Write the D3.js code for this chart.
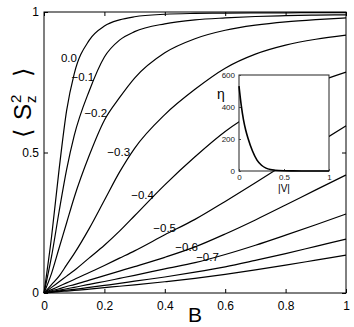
<!DOCTYPE html>
<html>
<head>
<meta charset="utf-8">
<script src="https://cdn.jsdelivr.net/npm/d3@7"></script>
<style>
  body { margin: 0; background: #fff; }
  text { font-family: "Liberation Sans", Arial, Helvetica, sans-serif; }
</style>
</head>
<body>
<div id="chart"></div>
<script>
const bValues = [0, 0.025, 0.05, 0.075, 0.1, 0.15, 0.2, 0.25, 0.3, 0.4, 0.5, 0.6, 0.7, 0.8, 0.9, 1.0];

// <Sz^2> for each curve (V = 0.0 ... -0.9)
const curveV00 = [0, 0.20, 0.44, 0.65, 0.78, 0.90, 0.95, 0.972, 0.983, 0.992, 0.995, 0.996, 0.997, 0.997, 0.998, 0.998];
const curveV01 = [0, 0.13, 0.29, 0.44, 0.56, 0.72, 0.84, 0.90, 0.93, 0.958, 0.972, 0.979, 0.984, 0.987, 0.989, 0.99];
const curveV02 = [0, 0.07, 0.16, 0.25, 0.34, 0.49, 0.615, 0.695, 0.765, 0.855, 0.905, 0.935, 0.953, 0.965, 0.973, 0.979];
const curveV03 = [0, 0.03, 0.06, 0.10, 0.14, 0.23, 0.33, 0.43, 0.515, 0.635, 0.725, 0.80, 0.85, 0.882, 0.903, 0.918];
const curveV04 = [0, 0.02, 0.04, 0.06, 0.08, 0.125, 0.17, 0.22, 0.275, 0.385, 0.485, 0.575, 0.645, 0.70, 0.748, 0.786];
const curveV05 = [0, 0.012, 0.024, 0.036, 0.048, 0.073, 0.098, 0.124, 0.15, 0.207, 0.262, 0.326, 0.392, 0.46, 0.528, 0.595];
const curveV06 = [0, 0.008, 0.015, 0.023, 0.03, 0.046, 0.062, 0.078, 0.094, 0.127, 0.164, 0.21, 0.26, 0.313, 0.367, 0.42];
const curveV07 = [0, 0.005, 0.01, 0.015, 0.02, 0.031, 0.041, 0.052, 0.063, 0.086, 0.108, 0.137, 0.17, 0.206, 0.243, 0.281];
const curveV08 = [0, 0.003, 0.007, 0.01, 0.013, 0.02, 0.027, 0.034, 0.042, 0.057, 0.074, 0.093, 0.116, 0.14, 0.166, 0.192];
const curveV09 = [0, 0.002, 0.005, 0.007, 0.009, 0.014, 0.019, 0.024, 0.029, 0.04, 0.052, 0.066, 0.082, 0.099, 0.117, 0.135];
const allCurves = [curveV00, curveV01, curveV02, curveV03, curveV04, curveV05, curveV06, curveV07, curveV08, curveV09];

// curve labels and where their right end sits (B, <Sz^2>)
const curveLabels = ["0.0", "\u22120.1", "\u22120.2", "\u22120.3", "\u22120.4", "\u22120.5", "\u22120.6", "\u22120.7"];
const labelB = [0.109, 0.166, 0.209, 0.285, 0.364, 0.437, 0.510, 0.579];
const labelS = [0.822, 0.755, 0.626, 0.488, 0.335, 0.217, 0.149, 0.114];

// inset: eta against |V|
const insetV = [0, 0.025, 0.05, 0.075, 0.1, 0.15, 0.2, 0.25, 0.3, 0.35, 0.4, 0.5, 0.6, 0.7, 0.8, 0.9, 1.0];
const insetEta = [530, 410, 320, 255, 205, 125, 68, 36, 18, 9, 5, 1.5, 0.5, 0, 0, 0, 0];

const xTicks = [0, 0.2, 0.4, 0.6, 0.8, 1];
const xTickLabels = ["0", "0.2", "0.4", "0.6", "0.8", "1"];
const yTicks = [0, 0.5, 1];
const yTickLabels = ["0", "0.5", "1"];
const insetXTicks = [0, 0.5, 1];
const insetXTickLabels = ["0", "0.5", "1"];
const insetYTicks = [0, 200, 400, 600];

const width = 354, height = 327;
const margin = { top: 12, right: 8, bottom: 34, left: 44 };

const svg = d3.select("#chart").append("svg")
    .attr("width", width)
    .attr("height", height);

const x = d3.scaleLinear().domain([0, 1]).range([margin.left, width - margin.right]);
const y = d3.scaleLinear().domain([0, 1]).range([height - margin.bottom, margin.top]);

// curves
const line = d3.line()
    .x(function (d, i) { return x(bValues[i]); })
    .y(function (d) { return y(d); })
    .curve(d3.curveMonotoneX);

svg.append("g").selectAll("path")
    .data(allCurves)
    .enter()
    .append("path")
    .attr("d", line)
    .attr("fill", "none")
    .attr("stroke", "#000")
    .attr("stroke-width", 1.2);

// axes, ticks pointing inwards on all four sides
function styleAxis(g) {
    g.select(".domain").remove();
    g.selectAll("line").attr("stroke", "#000");
    g.selectAll("text").attr("fill", "#000").style("font-size", "12px");
}

svg.append("g")
    .attr("transform", "translate(0," + y(0) + ")")
    .call(d3.axisBottom(x).tickValues(xTicks).tickFormat(function (d, i) { return xTickLabels[i]; })
        .tickSizeInner(-4).tickSizeOuter(0).tickPadding(8))
    .call(styleAxis);

svg.append("g")
    .attr("transform", "translate(0," + y(1) + ")")
    .call(d3.axisTop(x).tickValues(xTicks).tickFormat("").tickSizeInner(-4).tickSizeOuter(0))
    .call(styleAxis);

svg.append("g")
    .attr("transform", "translate(" + x(0) + ",0)")
    .call(d3.axisLeft(y).tickValues(yTicks).tickFormat(function (d, i) { return yTickLabels[i]; })
        .tickSizeInner(-4).tickSizeOuter(0).tickPadding(5))
    .call(styleAxis);

svg.append("g")
    .attr("transform", "translate(" + x(1) + ",0)")
    .call(d3.axisRight(y).tickValues(yTicks).tickFormat("").tickSizeInner(-4).tickSizeOuter(0))
    .call(styleAxis);

svg.append("rect")
    .attr("x", x(0))
    .attr("y", y(1))
    .attr("width", x(1) - x(0))
    .attr("height", y(0) - y(1))
    .attr("fill", "none")
    .attr("stroke", "#000")
    .attr("stroke-width", 1);

// curve labels
svg.append("g").selectAll("text")
    .data(curveLabels)
    .enter()
    .append("text")
    .attr("x", function (d, i) { return x(labelB[i]); })
    .attr("y", function (d, i) { return y(labelS[i]); })
    .attr("text-anchor", "end")
    .style("font-size", "11.5px")
    .text(function (d) { return d; });

// axis titles
svg.append("text")
    .attr("x", (x(0) + x(1)) / 2)
    .attr("y", height - 5)
    .attr("text-anchor", "middle")
    .style("font-size", "21px")
    .text("B");

const yTitle = svg.append("g")
    .attr("transform", "translate(31,98) rotate(-90)");
yTitle.append("text").attr("x", -40).attr("y", 0)
    .style("font-family", "DejaVu Sans").style("font-size", "24px").text("\u27e8");
yTitle.append("text").attr("x", -22).attr("y", 0)
    .style("font-size", "24px").text("S");
yTitle.append("text").attr("x", -5).attr("y", -10)
    .style("font-size", "15px").text("2");
yTitle.append("text").attr("x", -5).attr("y", 5)
    .style("font-size", "15px").text("z");
yTitle.append("text").attr("x", 21).attr("y", 0)
    .style("font-family", "DejaVu Sans").style("font-size", "24px").text("\u27e9");

// inset
const inset = { left: 239, right: 329, top: 75, bottom: 171 };
const ix = d3.scaleLinear().domain([0, 1]).range([inset.left, inset.right]);
const iy = d3.scaleLinear().domain([0, 600]).range([inset.bottom, inset.top]);

svg.append("rect")
    .attr("x", inset.left)
    .attr("y", inset.top)
    .attr("width", inset.right - inset.left)
    .attr("height", inset.bottom - inset.top)
    .attr("fill", "#fff")
    .attr("stroke", "#222")
    .attr("stroke-width", 1);

function styleInsetAxis(g) {
    g.select(".domain").remove();
    g.selectAll("line").attr("stroke", "#444");
    g.selectAll("text").attr("fill", "#222").style("font-size", "8px");
}

svg.append("g")
    .attr("transform", "translate(0," + inset.bottom + ")")
    .call(d3.axisBottom(ix).tickValues(insetXTicks).tickFormat(function (d, i) { return insetXTickLabels[i]; })
        .tickSizeInner(-2).tickSizeOuter(0).tickPadding(3))
    .call(styleInsetAxis);

svg.append("g")
    .attr("transform", "translate(" + inset.left + ",0)")
    .call(d3.axisLeft(iy).tickValues(insetYTicks).tickFormat(d3.format("d"))
        .tickSizeInner(-2).tickSizeOuter(0).tickPadding(4))
    .call(styleInsetAxis);

const insetLine = d3.line()
    .x(function (d, i) { return ix(insetV[i]); })
    .y(function (d) { return iy(d); })
    .curve(d3.curveMonotoneX);

svg.append("path")
    .datum(insetEta)
    .attr("d", insetLine)
    .attr("fill", "none")
    .attr("stroke", "#000")
    .attr("stroke-width", 1.6);

svg.append("text")
    .attr("x", 221)
    .attr("y", 99)
    .attr("text-anchor", "middle")
    .style("font-size", "14px")
    .text("\u03b7");

svg.append("text")
    .attr("x", (inset.left + inset.right) / 2)
    .attr("y", 192)
    .attr("text-anchor", "middle")
    .style("font-size", "10px")
    .text("|V|");
</script>
</body>
</html>
